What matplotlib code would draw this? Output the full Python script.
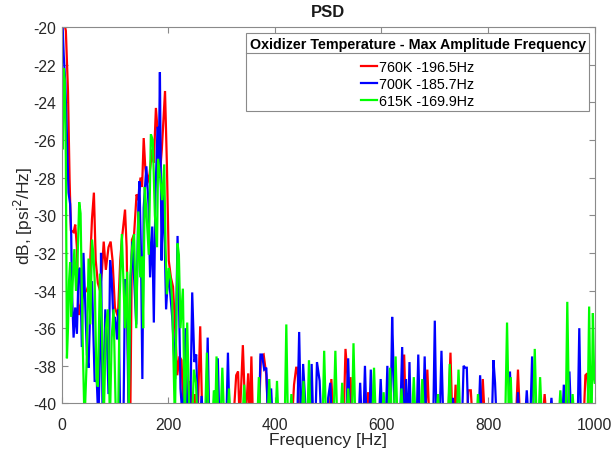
import numpy as np
import matplotlib
matplotlib.use("Agg")
import matplotlib.pyplot as plt
from matplotlib.lines import Line2D

# ---------------- data (frequency Hz, PSD dB) ----------------
labels = ["760K -196.5Hz", "700K -185.7Hz", "615K -169.9Hz"]
legend_title = "Oxidizer Temperature - Max Amplitude Frequency"

psd_760K = [
    (0, -19), (3, -19.5), (8, -20.2), (12, -23.4), (15, -28.1), (17.5, -30.8), (22.5, -30.9),
    (25.6, -30.5), (28.7, -31.7), (32, -35.3), (35, -34.9), (40, -34.2), (47, -34), (52, -33.6),
    (57, -30.2), (60.6, -28.8), (64, -32.4), (68, -33.6), (72, -34), (75.6, -33), (79, -31.4),
    (83, -32.9), (88, -31.7), (92, -31.4), (95.6, -32.4), (100, -34.9), (105.6, -35.4), (110, -32.4),
    (113, -31.3), (119, -29.7), (122, -31.7), (125.6, -39.5), (128.8, -41), (132, -31.3), (136, -31),
    (140.6, -28.9), (144, -29.2), (148, -28), (151, -28.5), (154, -25.9), (157, -27.5), (161, -28.3),
    (165, -27.8), (170, -26.5), (173, -27.2), (176.9, -24.3), (180.6, -25.7), (184, -28), (188, -26.5),
    (194, -23.4), (197.5, -27.3), (201, -32.4), (205, -33.3), (209, -33.8), (213, -36), (217, -38.5),
    (221, -37.5), (225, -37.7), (229, -41), (233, -38.3), (237, -41), (241, -38.8), (245, -41),
    (250, -39.5), (255, -41), (260, -35.9), (264, -41),
    (322, -41), (327.5, -38.5), (331, -38.3), (334, -41), (340, -36.9), (345, -41), (350, -38.4),
    (353, -41), (356, -37.5), (359, -41), (370, -41), (373.8, -37.5), (379, -37.4), (384, -38.5),
    (388, -41), (432, -41), (436, -39), (440, -38.1), (442.5, -38.1), (446, -41), (502, -41),
    (506, -38.7), (510, -41), (529, -41), (532.5, -37.1), (536, -38.5), (539, -41), (542, -38.6),
    (545, -41), (571, -41), (575, -39.4), (579, -41), (639, -41), (642.5, -37.4), (646, -41),
    (682, -41), (686, -38.2), (690, -41), (725, -41), (729.4, -37.3), (733, -41), (736, -41),
    (739, -39), (742, -41), (760, -41), (763, -39.3), (767.5, -39.3), (771, -41), (786, -41),
    (790, -38.7), (794, -41), (852, -41), (856, -38.2), (860, -41), (902, -41), (906, -39.5),
    (910, -41), (979, -41), (982.5, -38.5), (986, -38.4), (990, -41), (1000, -41),
]

psd_700K = [
    (0, -19.5), (2, -20), (4, -21.5), (7, -23), (10, -25.8), (13, -28.8), (16, -29.4), (18, -31),
    (19.4, -34), (22.5, -36.5), (25.6, -34.9), (28.7, -36.3), (32, -32.9), (35, -32.8), (38, -37),
    (41, -32), (44, -34.4), (47.5, -37.4), (50.6, -38.1), (53.7, -34.9), (57, -33.5), (62, -38.8),
    (66, -38.8), (69, -41), (72.5, -36.6), (74, -32), (77, -41), (82, -35), (85, -36.5), (88, -39.5),
    (91, -32.4), (94, -33.4), (97.5, -35.8), (100.6, -35.4), (104, -36.6), (107, -35), (110, -41),
    (116, -41), (119, -33.4), (122, -33.8), (125.6, -40.5), (129, -34), (132.5, -31.4), (136, -33.3),
    (140, -35.8), (144, -29.4), (146, -28.2), (149, -32.1), (151.5, -38.7), (154, -29.6),
    (159, -27.4), (163, -29.4), (166, -33.3), (170, -30.6), (173, -35.7), (176, -28.9), (180, -25.3),
    (182, -28), (184.4, -22.4), (187.5, -32.4), (190, -28.9), (193.5, -31.5), (196, -35), (200, -33),
    (204, -34.2), (208, -35.6), (213, -38.7), (217.5, -31.1), (220, -34.2), (223, -39.2),
    (227.5, -41), (232.5, -36), (236, -41), (241, -41), (245, -34.1), (249, -37.8), (252.5, -37.4),
    (256, -41), (260, -41), (262.5, -39.6), (266, -41), (271, -41), (274, -36.5), (277, -41),
    (290, -41), (293, -37.6), (296, -41), (309, -41), (312, -37.3), (315, -41), (370, -41),
    (373, -37.4), (376, -37.4), (380, -38.2), (384, -38.1), (387, -41), (390, -41), (393, -39.2),
    (396, -41), (442, -41), (445.6, -36.2), (449, -41), (451, -41), (453, -37.9), (456, -39.5),
    (459, -41), (466, -41), (469, -37.9), (472, -41), (476, -41), (479, -37.8), (484, -38.8),
    (487, -41), (498, -41), (500, -39.7), (504, -38.9), (507, -41), (534, -41), (537.5, -37.6),
    (541, -41), (557, -41), (560, -38.9), (563, -41), (566, -41), (569, -38), (572, -41), (577, -41),
    (580, -38.2), (583, -41), (595, -41), (598.5, -38.7), (602, -41), (608, -41), (611, -38),
    (614, -41), (617, -41), (620, -35.4), (622, -37.5), (625, -41), (635, -41), (638.8, -37),
    (641, -41), (643, -41), (646, -38.7), (649, -41), (650, -41), (652.5, -37.8), (655, -41),
    (666, -41), (669, -37.4), (672, -41), (678, -41), (681, -37.5), (684, -41), (697, -41),
    (700, -35.6), (703, -41), (709, -41), (712.5, -37.2), (716, -41), (731, -41), (734, -39.7),
    (737, -41), (751, -41), (754, -38), (757, -38.1), (760, -38.1), (763, -41), (782, -41),
    (785, -38.5), (788, -41), (807, -41), (810, -37.7), (813, -38.9), (816, -41), (838, -41),
    (841, -38.3), (844, -41), (853, -41), (856, -39.4), (859, -41), (869, -41), (872.5, -39.3),
    (876, -41), (879, -41), (882.5, -37.5), (886, -41), (915, -41), (918.8, -39.7), (922, -41),
    (939, -41), (942, -39), (945, -41), (949, -41), (952.5, -38.3), (956, -41), (968, -41),
    (971, -36), (974, -41), (1000, -41),
]

psd_615K = [
    (0, -21), (2, -26.5), (4, -22.2), (6, -22.8), (8, -27), (10, -37.6), (12, -36), (14, -33.5),
    (16, -32.5), (18, -35.4), (21, -33.5), (24, -31.8), (27, -34), (29.4, -32.9), (33, -29.3),
    (35.6, -29.9), (39.4, -36.5), (43, -41), (47, -37.8), (50.6, -32.3), (54, -35.8), (57, -31.3),
    (59.4, -32), (62, -33.4), (65.6, -38.8), (68, -39.1), (72, -33.1), (75.6, -36), (79, -41),
    (83, -36), (87, -35), (90.6, -41), (94, -36.5), (97.5, -35), (102, -41), (106, -41), (109, -34.3),
    (113, -31), (116, -33.5), (119, -36), (123, -33), (126, -40.5), (129, -33.2), (132.5, -31.7),
    (136, -31), (140, -36), (144, -29.8), (147.5, -33.3), (151, -32.2), (153, -36), (156, -28.5),
    (159, -29.8), (163.5, -32.1), (167.5, -25.7), (171, -26), (175, -30), (179, -31.7), (181, -27),
    (185, -28), (188.5, -29.2), (192.5, -27.3), (195, -31.7), (197.5, -34.2), (201, -32.8),
    (205, -33.5), (207.5, -34.6), (212.5, -41), (217.5, -31.5), (220, -32.1), (223, -36),
    (227.5, -33.9), (231, -41), (235.6, -35.7), (240, -41), (245, -41), (248, -38.2), (252, -38.9),
    (255, -41), (269, -41), (272.5, -37.3), (276, -41), (283, -41), (285.6, -39.3), (288, -41),
    (290.6, -37.5), (294, -41), (298, -41), (301.5, -38.1), (305, -41), (311, -41), (314, -39.2),
    (317, -41), (339, -41), (342.5, -39), (346, -41), (367, -41), (370, -38.6), (373, -41),
    (386, -41), (389.5, -38.7), (393, -41), (401, -41), (404, -38.8), (407, -41), (418.5, -41),
    (421.5, -35.8), (424.5, -41), (428, -41), (431, -39.5), (434, -41), (450, -41), (453.8, -38.8),
    (457, -41), (461, -41), (464, -37.7), (467, -41), (489.5, -41), (492.5, -37.2), (496, -41),
    (510, -41), (513.5, -37.2), (517, -41), (523, -41), (526.3, -38.9), (530, -41), (534, -41),
    (537.5, -39.2), (541, -41), (544.5, -41), (547.5, -36.8), (551, -41), (582.5, -41), (586, -38.1),
    (589.5, -41), (601, -41), (604, -39.4), (607, -41), (612.5, -41), (616, -38.1), (619.5, -41),
    (623, -41), (626.5, -37.5), (630, -41), (634.5, -41), (637.5, -39.2), (640.5, -41), (657, -41),
    (660.6, -38.6), (664, -41), (673, -41), (676.5, -38.7), (680, -41), (702.5, -41), (706, -39.5),
    (709.5, -41), (724.5, -41), (728, -37.9), (731, -41), (741, -41), (744.5, -38.2), (748, -41),
    (778, -41), (781, -39.5), (784, -41), (832, -41), (835.5, -35.7), (839, -41), (840, -41),
    (842.5, -38.6), (845, -41), (884, -41), (887.5, -37.1), (891, -41), (894.5, -41), (897.5, -38.6),
    (901, -41), (932, -41), (935.5, -39.3), (939, -41), (945.5, -41), (948.5, -34.6), (952, -41),
    (955.5, -41), (958.5, -39.5), (962, -41), (986.5, -41), (989.5, -34.85), (992.5, -41),
    (994, -41), (996.5, -35.2), (999, -38.7), (1000, -38.9),
]

series = [psd_760K, psd_700K, psd_615K]
colors = ["#ff0000", "#0000ff", "#00ff00"]

x_ticks = [0, 200, 400, 600, 800, 1000]
y_ticks = [-40, -38, -36, -34, -32, -30, -28, -26, -24, -22, -20]

# ---------------- figure ----------------
plt.rcParams["font.family"] = ["Liberation Sans", "DejaVu Sans"]
fig = plt.figure(figsize=(6.11, 4.52), dpi=100)
ax = fig.add_axes([0.1008, 0.1051, 0.8726, 0.8330])

for pts, c, lab in zip(series, colors, labels):
    arr = np.array(pts, dtype=float)
    ax.plot(arr[:, 0], arr[:, 1], color=c, lw=1.6, label=lab, solid_joinstyle="miter")

ax.set_xlim(0, 1000)
ax.set_ylim(-40, -20)
ax.set_xticks(x_ticks)
ax.set_yticks(y_ticks)
ax.set_xticklabels([str(t) for t in x_ticks])
ax.set_yticklabels([str(t) for t in y_ticks])

spine_col = "#8a8a8a"
for s in ax.spines.values():
    s.set_color(spine_col)
    s.set_linewidth(0.8)
ax.tick_params(direction="in", length=4.5, width=0.8, color=spine_col,
               top=True, right=True, labelsize=11.3, labelcolor="#262626")
ax.tick_params(axis="x", pad=10)
ax.tick_params(axis="y", pad=4)

ax.set_xlabel("Frequency [Hz]", fontsize=12.5, color="#262626", labelpad=0)
ax.set_ylabel("dB, [psi$^2$/Hz]", fontsize=12.5, color="#262626", labelpad=-1.5)
ax.set_title("PSD", fontsize=12, fontweight="bold", color="#1a1a1a", pad=8)

leg = ax.legend(loc="upper right", bbox_to_anchor=(0.9897, 0.983), borderaxespad=0,
                title=legend_title, title_fontproperties={"weight": "bold", "size": 10.3},
                fontsize=10.3, fancybox=False, framealpha=1, edgecolor="#8a8a8a",
                handlelength=1.1, handletextpad=0.1, labelspacing=0.2, borderpad=0.25)
leg.get_frame().set_linewidth(0.8)
# extra gap between legend title and entries (MATLAB style)
leg._legend_box.sep = 6.5

# separator line under legend title (MATLAB style)
fig.canvas.draw()
fb = leg.get_frame().get_window_extent()
tb = leg.get_title().get_window_extent()
inv = fig.transFigure.inverted()
yline = tb.y0 - 2
(x0f, yf), (x1f, _) = inv.transform([(fb.x0, yline), (fb.x1, yline)])
fig.add_artist(Line2D([x0f, x1f], [yf, yf], color="#8a8a8a", lw=0.8, transform=fig.transFigure))

fig.savefig("out.png", dpi=100)
